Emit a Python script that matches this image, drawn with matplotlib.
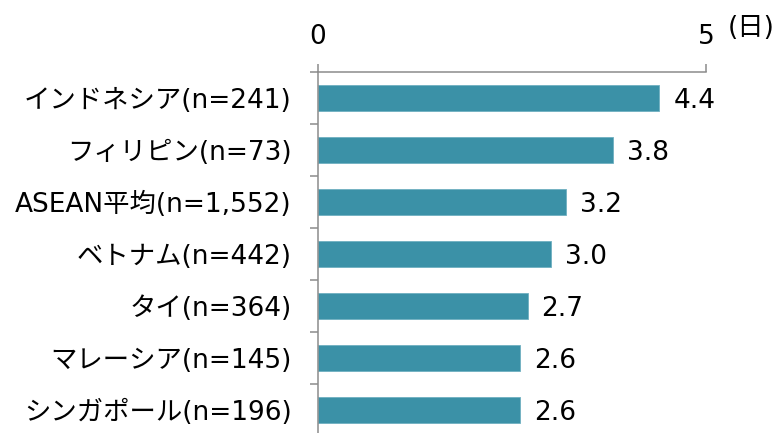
import matplotlib
matplotlib.use("Agg")
import matplotlib.pyplot as plt

plt.rcParams['font.family'] = ['DejaVu Sans', 'Noto Sans CJK JP']

# average days by country (top to bottom)
labels = ['インドネシア(n=241)', 'フィリピン(n=73)', 'ASEAN平均(n=1,552)',
          'ベトナム(n=442)', 'タイ(n=364)', 'マレーシア(n=145)',
          'シンガポール(n=196)']
values = [4.4, 3.8, 3.2, 3.0, 2.7, 2.6, 2.6]
xticks = [0, 5]

bar_color = '#3b91a7'
axis_color = '#8c8c8c'
fs = 19

fig = plt.figure(figsize=(7.82, 4.33), dpi=100)
ax = fig.add_axes([318 / 782, 1 - 436 / 433, 388 / 782, 364 / 433])

pos = range(len(values))
ax.barh(pos, values, height=0.5, color=bar_color, edgecolor='#6fb0c1', linewidth=0.6)
for y, v in zip(pos, values):
    ax.annotate(f'{v:.1f}', (v, y), xytext=(10, 0), textcoords='offset points',
                va='center_baseline', ha='left', fontsize=fs)

ax.set_xlim(0, 5)
ax.set_ylim(len(values) - 0.5, -0.5)

# value axis on top, only 0 and 5
ax.xaxis.tick_top()
ax.set_xticks(xticks)
ax.set_xticklabels([str(t) for t in xticks], fontsize=fs)
ax.tick_params(axis='x', direction='out', length=6, width=1.1, color=axis_color, pad=10)

# category labels, ticks at boundaries between bars
ax.set_yticks([p - 0.5 for p in pos], minor=False)
ax.set_yticklabels([])
ax.set_yticks(list(pos), minor=True)
ax.set_yticklabels(labels, minor=True, fontsize=fs)
ax.tick_params(axis='y', which='major', direction='out', length=6, width=1.1, color=axis_color)
ax.tick_params(axis='y', which='minor', length=0, pad=19)

for side in ['right', 'bottom']:
    ax.spines[side].set_visible(False)
for side in ['top', 'left']:
    ax.spines[side].set_color(axis_color)
    ax.spines[side].set_linewidth(1.1)

# unit label
fig.text(775 / 782, 1 - 28 / 433, '(日)', ha='right', va='center', fontsize=fs)

fig.savefig('out.png', dpi=100)
